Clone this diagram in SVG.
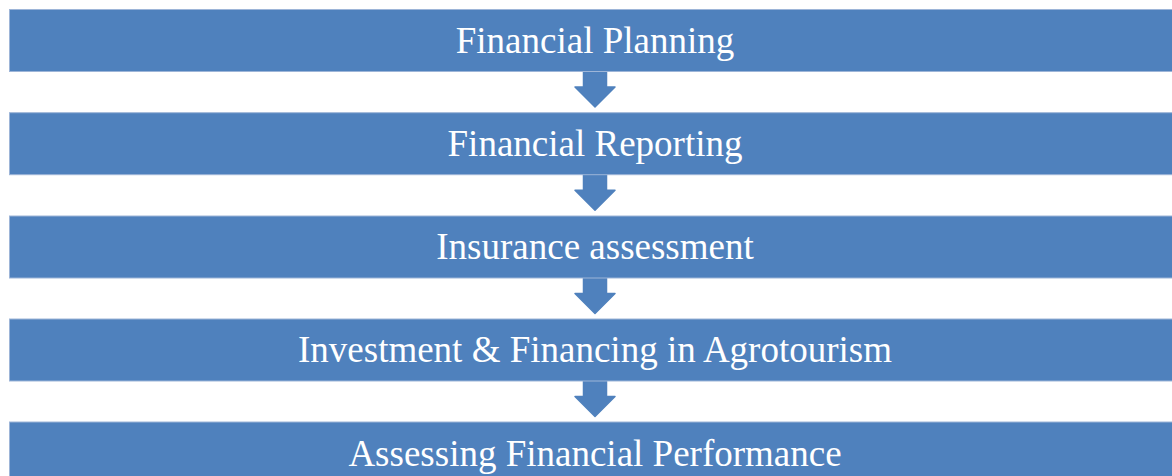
<svg xmlns="http://www.w3.org/2000/svg" width="1172" height="476" viewBox="0 0 1172 476">
<defs>
<style>
.box{fill:#4F81BD;stroke:#9DB5D8;stroke-width:1}
.lbl{font-family:"Liberation Serif","Times New Roman",serif;font-size:37px;fill:#FFFFFF;text-anchor:middle}
.arr{fill:#4F81BD;stroke:#4F81BD;stroke-width:1.5;stroke-linejoin:round}
</style>
<path id="arrowShape" d="M-11.5,-6 L11.5,-6 L11.5,15.5 L20,15.5 L0,35.5 L-20,15.5 L-11.5,15.5 Z"/>
</defs>
<rect width="1172" height="476" fill="#FFFFFF"/>
<g id="connectors">
<use href="#arrowShape" class="arr" transform="translate(595,71.5)"/>
<use href="#arrowShape" class="arr" transform="translate(595,174.7)"/>
<use href="#arrowShape" class="arr" transform="translate(595,278)"/>
<use href="#arrowShape" class="arr" transform="translate(595,381)"/>
</g>
<g id="node1"><rect class="box" x="9.5" y="9.5" width="1175" height="62"/><text class="lbl" x="595" y="52.5">Financial Planning</text></g>
<g id="node2"><rect class="box" x="9.5" y="112.7" width="1175" height="62"/><text class="lbl" x="595" y="155.7">Financial Reporting</text></g>
<g id="node3"><rect class="box" x="9.5" y="216" width="1175" height="62"/><text class="lbl" x="595" y="259">Insurance assessment</text></g>
<g id="node4"><rect class="box" x="9.5" y="319" width="1175" height="62"/><text class="lbl" x="595" y="362">Investment &amp; Financing in Agrotourism</text></g>
<g id="node5"><rect class="box" x="9.5" y="422" width="1175" height="62"/><text class="lbl" x="595" y="465.5">Assessing Financial Performance</text></g>
</svg>
